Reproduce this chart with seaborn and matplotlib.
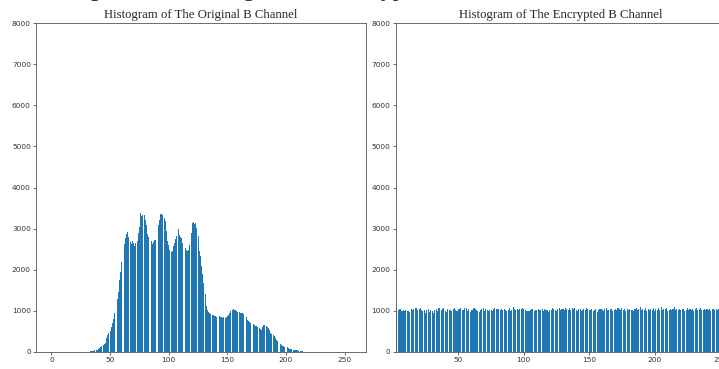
import matplotlib
matplotlib.use("Agg")
import matplotlib.pyplot as plt
import seaborn as sns
import numpy as np

# ---------------- data ----------------
levels = list(range(256))

original_b = ([0] * 29 + [
    3, 5, 8, 12, 15, 20, 25, 32, 40, 48,
    60, 73, 90, 110, 138, 160, 190, 220, 340, 420,
    460, 500, 610, 700, 800, 960, 1150, 1300, 1460, 1750,
    1950, 2200, 2450, 2620, 2760, 2870, 2910, 2800, 2680, 2620,
    2690, 2640, 2580, 2650, 2700, 2900, 3050, 3380, 3300, 3320,
    3340, 3200, 3080, 2870, 2800, 2730, 2700, 2630, 2680, 2720,
    2730, 2950, 3100, 3220, 3350, 3360, 3330, 3250, 3180, 2940,
    2700, 2600, 2490, 2440, 2460, 2570, 2650, 2740, 2830, 2990,
    2850, 2800, 2760, 2650, 2580, 2530, 2490, 2450, 2480, 2610,
    2900, 3140, 3150, 3120, 3140, 3020, 2810, 2450, 2330, 2100,
    1900, 1680, 1400, 1110, 1010, 980, 950, 930, 910, 890,
    880, 870, 860, 880, 870, 850, 840, 830, 850, 830,
    840, 870, 910, 950, 990, 1020, 1050, 1030, 1010, 1000,
    980, 970, 960, 950, 940, 920, 890, 860, 780, 750,
    730, 705, 690, 670, 660, 640, 625, 600, 585, 560,
    545, 600, 657, 650, 640, 620, 585, 530, 470, 440,
    420, 400, 350, 300, 260, 220, 190, 162, 150, 140,
    130, 125, 114, 100, 85, 73, 65, 60, 57, 50,
    45, 40, 32, 26, 20, 16, 10, 5,
] + [0] * 39)

encrypted_b = [
    935, 962, 1031, 1048, 1012, 1039, 1045, 985, 1021, 1003, 1017, 994, 1008, 982, 1036, 1027, 1041, 1069, 1078, 1025,
    1052, 1066, 1014, 990, 1029, 955, 1018, 1034, 968, 1010, 1001, 945, 1023, 1057, 987, 1072, 1075, 1019, 1046, 1061,
    1003, 977, 1038, 1012, 1024, 991, 1035, 1067, 1028, 1005, 1050, 1044, 1062, 1031, 1016, 1070, 1058, 1009, 1037, 983,
    1012, 1026, 1074, 1049, 1023, 999, 964, 1018, 1042, 1065, 1007, 1036, 1011, 996, 1030, 1019, 1001, 1056, 1071, 1048,
    1038, 1052, 1020, 1044, 1033, 1039, 1013, 998, 1026, 1061, 1002, 1027, 1085, 1040, 1017, 1048, 1029, 1052, 1035, 1061,
    1045, 1020, 1008, 993, 1000, 1018, 1036, 1045, 1002, 1031, 1019, 1043, 1010, 1024, 1054, 1006, 1041, 1013, 1030, 978,
    1015, 1029, 1063, 1036, 1025, 1003, 1047, 1059, 1021, 1050, 1039, 1011, 1072, 1046, 1027, 1058, 1018, 1066, 1041, 1079,
    1023, 1005, 1037, 1051, 1009, 1028, 1044, 1016, 1068, 1053, 1032, 1019, 1040, 1001, 1025, 1047, 983, 1010, 1035, 1055,
    1029, 1003, 1038, 1064, 1011, 1022, 1046, 1057, 1008, 1031, 1050, 1013, 1074, 1042, 1024, 1060, 1017, 1036, 1002, 1048,
    1027, 1055, 1010, 1033, 999, 1045, 1062, 1020, 1039, 1093, 1015, 1052, 1028, 1066, 1004, 1037, 1019, 1048, 1026, 1071,
    1009, 1042, 1031, 1058, 1013, 1097, 1024, 1046, 1035, 1061, 1007, 1029, 1052, 1018, 1039, 1088, 1012, 1044, 1026, 1057,
    1020, 1036, 1049, 1003, 1031, 1064, 1015, 1047, 1028, 1052, 1009, 1040, 1067, 1023, 1036, 1058, 1011, 1033, 1046, 1019,
    1050, 1027, 1042, 1005, 1038, 1055, 1021, 1034, 1012, 1049, 1030, 1043, 1016, 1025, 1040, 1008,
]

titles = ["Histogram of The Original B Channel", "Histogram of The Encrypted B Channel"]
suptitle = "Histogram of The Original and Encrypted B Channel"
yticks = list(range(0, 8001, 1000))
xticks_left = [0, 50, 100, 150, 200, 250]
xticks_right = [50, 100, 150, 200, 250]

# ---------------- figure ----------------
sns.set_style("ticks")
W, H = 719, 369
fig = plt.figure(figsize=(W / 100, H / 100), dpi=100)

ax_w = 330 / W
ax_h = 329 / H
ax_b = (H - 352) / H
ax1 = fig.add_axes([36 / W, ax_b, ax_w, ax_h])
ax2 = fig.add_axes([395.6 / W, ax_b, ax_w, ax_h])

blue = "#1f77b4"
for ax, vals, title, xlim, xt in [
    (ax1, original_b, titles[0], (-13.2, 268.2), xticks_left),
    (ax2, encrypted_b, titles[1], (2.1, 254.2), xticks_right),
]:
    sns.barplot(x=levels, y=vals, native_scale=True, color=blue, saturation=1,
                width=0.8, errorbar=None, linewidth=0, ax=ax)
    ax.set_xticks(xt)
    ax.set_xlim(*xlim)
    ax.set_ylim(0, 8000)
    ax.set_yticks(yticks)
    ax.set_xlabel("")
    ax.set_ylabel("")
    ax.tick_params(labelsize=5.3, length=2.2, width=0.5, pad=1.5, colors="#333333")
    for s in ax.spines.values():
        s.set_linewidth(0.6)
        s.set_color("#555555")
        s.set_visible(True)
    ax.set_title(title, fontfamily="Liberation Serif", fontsize=9.2, pad=3.5)

fig.text(38 / W, 1 + 3.5 / H, suptitle, fontfamily="Liberation Serif",
         fontsize=17, ha="left", va="baseline")

fig.savefig("out.png", dpi=100)
